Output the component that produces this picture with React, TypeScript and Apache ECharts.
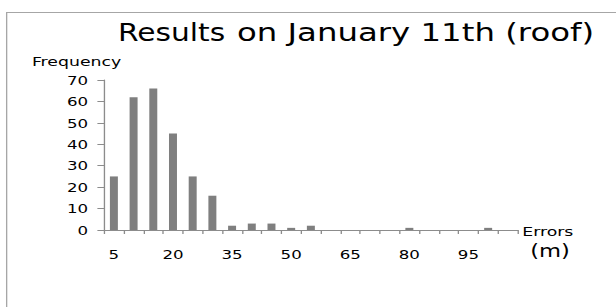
import React, { useEffect, useRef } from "react";
import * as echarts from "echarts";

const categories = ["5","10","15","20","25","30","35","40","45","50","55","60","65","70","75","80","85","90","95","100","105"];
const frequencies = [25, 62, 66, 45, 25, 16, 2, 3, 3, 1, 2, 0, 0, 0, 0, 1, 0, 0, 0, 1, 0];
const titleWord1 = "Results";
const titleRest = "on January 11th (roof)";
const yAxisName = "Frequency";
const xAxisName1 = "Errors";
const xAxisName2 = "(m)";

const STRETCH = 1.3305;
const W = 463;
const H = 307;

export default function App() {
  const ref = useRef<HTMLDivElement>(null);
  useEffect(() => {
    const chart = echarts.init(ref.current!, null, { renderer: "svg" });
    const font = "DejaVu Sans";
    chart.setOption({
      animation: false,
      backgroundColor: "#ffffff",
      graphic: [
        {
          type: "polyline",
          shape: { points: [[5, 320], [5, 12.5], [480, 12.5]] },
          style: { stroke: "#a6a6a6", fill: "none", lineWidth: 1 },
        },
        {
          type: "text",
          x: 88.7,
          y: 21,
          scaleX: 0.93,
          style: { text: titleWord1, font: `24px '${font}'`, fill: "#000", textVerticalAlign: "top" },
        },
        {
          type: "text",
          x: 178.1,
          y: 21,
          scaleX: 1.014,
          style: { text: titleRest, font: `24px '${font}'`, fill: "#000", textVerticalAlign: "top" },
        },
        {
          type: "text",
          left: 24,
          top: 55,
          style: { text: yAxisName, font: `13px '${font}'`, fill: "#000" },
        },
        {
          type: "text",
          left: 392.5,
          top: 225,
          style: { text: xAxisName1, font: `13px '${font}'`, fill: "#000" },
        },
        {
          type: "text",
          left: 398.5,
          top: 243,
          style: { text: xAxisName2, font: `17px '${font}'`, fill: "#000" },
        },
      ],
      grid: { left: 78.2, right: 73.9, top: 80, bottom: 77 },
      xAxis: {
        type: "category",
        data: categories,
        boundaryGap: true,
        axisLine: { lineStyle: { color: "#8c8c8c" } },
        axisTick: { show: true, length: 4, inside: false, alignWithLabel: false, interval: 0, lineStyle: { color: "#8c8c8c" } },
        axisLabel: { interval: 2, margin: 18, fontFamily: font, fontSize: 12.5, color: "#000" },
        splitLine: { show: false },
      },
      yAxis: {
        type: "value",
        min: 0,
        max: 70,
        interval: 10,
        axisLine: { show: true, lineStyle: { color: "#8c8c8c" } },
        axisTick: { show: true, length: 5, lineStyle: { color: "#8c8c8c" } },
        axisLabel: { margin: 12, fontFamily: font, fontSize: 12.5, color: "#000" },
        splitLine: { show: false },
      },
      series: [
        {
          type: "bar",
          data: frequencies,
          barWidth: 6,
          itemStyle: { color: "#7f7f7f" },
        },
      ],
    });
    return () => chart.dispose();
  }, []);
  return (
    <div style={{ position: "absolute", left: 0, top: 0, width: 616, height: H, overflow: "hidden", background: "#fff" }}>
      <div
        ref={ref}
        style={{ width: W, height: H, transform: `scaleX(${STRETCH})`, transformOrigin: "0 0" }}
      />
    </div>
  );
}
